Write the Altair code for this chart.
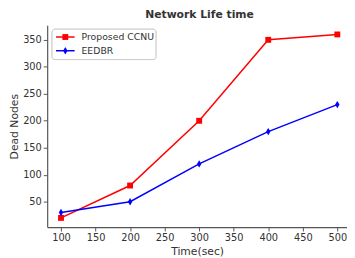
import altair as alt
import pandas as pd

time = [100, 200, 300, 400, 500]
ccnu = [20, 80, 200, 350, 360]
eedbr = [30, 50, 120, 180, 230]
series = ["Proposed CCNU", "EEDBR"]
colors = ["#ff0000", "#0000ff"]

df = pd.DataFrame({
    "Time": time + time,
    "Dead": ccnu + eedbr,
    "Series": [series[0]] * len(time) + [series[1]] * len(time),
})

sq = "M-1,-1H1V1H-1Z"
dia = "M0,-1L0.6,0L0,1L-0.6,0Z"
shapes = [sq, dia]
sizes = [36, 56]

x = alt.X("Time:Q",
          scale=alt.Scale(domain=[80, 514], nice=False, zero=False),
          axis=alt.Axis(values=[100, 150, 200, 250, 300, 350, 400, 450, 500],
                        title="Time(sec)", grid=False))
y = alt.Y("Dead:Q",
          scale=alt.Scale(domain=[3, 377], nice=False, zero=False),
          axis=alt.Axis(values=[50, 100, 150, 200, 250, 300, 350],
                        title="Dead Nodes", grid=False))

lines = alt.Chart(df).mark_line(strokeWidth=1.5).encode(
    x=x, y=y,
    stroke=alt.Stroke("Series:N", scale=alt.Scale(domain=series, range=colors), legend=None))
points = alt.Chart(df).mark_point(filled=True, opacity=1, strokeWidth=0).encode(
    x=x, y=y,
    fill=alt.Fill("Series:N", scale=alt.Scale(domain=series, range=colors), legend=None),
    shape=alt.Shape("Series:N", scale=alt.Scale(domain=series, range=shapes), legend=None),
    size=alt.Size("Series:N", scale=alt.Scale(domain=series, range=sizes), legend=None),
)

# legend drawn as marks in the upper-left corner of the plot
leg_df = pd.DataFrame({"Series": series})
legend_layers = [
    alt.Chart(leg_df).mark_rect(fill="white", stroke="#cccccc", strokeWidth=1,
                                cornerRadius=3).encode(
        x=alt.value(5), x2=alt.value(111), y=alt.value(4), y2=alt.value(35))
]
for i, name in enumerate(series):
    ly = 12 + 14 * i
    one = pd.DataFrame({"Series": [name]})
    legend_layers.append(alt.Chart(one).mark_rule(color=colors[i], strokeWidth=1.5).encode(
        x=alt.value(9), x2=alt.value(28), y=alt.value(ly)))
    legend_layers.append(alt.Chart(one).mark_point(filled=True, opacity=1, strokeWidth=0,
                                                   fill=colors[i], shape=shapes[i],
                                                   size=sizes[i]).encode(
        x=alt.value(18.5), y=alt.value(ly)))
    legend_layers.append(alt.Chart(one).mark_text(align="left", baseline="middle",
                                                  font="DejaVu Sans", fontSize=9.5,
                                                  color="#333333").encode(
        x=alt.value(35), y=alt.value(ly), text="Series:N"))

chart = alt.layer(lines, points, *legend_layers).properties(
    width=306, height=206,
    title=alt.TitleParams("Network Life time", fontSize=11, fontWeight="bold",
                          font="DejaVu Sans", color="#333333", offset=5, dx=2.5),
    autosize=alt.AutoSizeParams(type="none"),
    padding={"left": 40, "top": 15, "right": 0, "bottom": 32},
).configure_view(strokeWidth=0).configure_axis(
    domainColor="#555555", tickColor="#555555", labelColor="#333333",
    titleColor="#333333", labelFont="DejaVu Sans", titleFont="DejaVu Sans",
    labelFontSize=10, titleFontSize=11, titleFontWeight="normal",
    tickSize=4, domainWidth=1.2, tickWidth=1, labelPadding=2,
).configure_axisY(titlePadding=3).configure_axisX(titlePadding=3)

chart.save("out.html", embed_options={"renderer": "svg", "actions": False})
